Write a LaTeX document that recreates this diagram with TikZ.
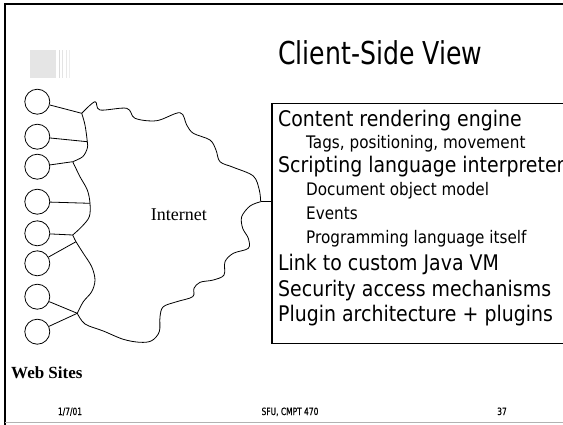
\documentclass[tikz,border=0pt]{standalone}
\usepackage{fontspec}
\setmainfont{Liberation Serif}
\newfontfamily\tah{DejaVu Sans}[FakeStretch=0.8]
\newfontfamily\tahb{DejaVu Sans}[FakeStretch=0.88]
\newfontfamily\tahf{DejaVu Sans}[FakeStretch=0.75,FakeBold=0.6]
\begin{document}
\begin{tikzpicture}[x=1pt,y=-1pt,
  site/.style={draw,circle,minimum size=25pt,inner sep=0pt,line width=0.8pt},
  wire/.style={line width=0.8pt},
  mainitem/.style={anchor=base west,inner sep=0pt,font=\tahb\fontsize{21.5}{24}\selectfont},
  subitem/.style={anchor=base west,inner sep=0pt,font=\tahb\fontsize{17.3}{20}\selectfont},
  foot/.style={anchor=base,inner sep=0pt,font=\tahf\fontsize{10}{11}\selectfont}]
\useasboundingbox (0,0) rectangle (563,424);
\clip (0,0) rectangle (563,424);
% frame
\draw[line width=2.2pt] (5,430) -- (5,4) -- (570,4);
\draw[line width=1.4pt,color=black!30] (5,422.5) -- (570,422.5);
% logo
\fill[black!10] (30,50) rectangle (56,78);
\draw[black!14,line width=0.9pt] (59.3,50) -- (59.3,78);
\draw[black!11,line width=0.9pt] (62.3,50) -- (62.3,78);
\draw[black!9,line width=0.9pt] (66.7,50) -- (66.7,78);
\draw[black!7,line width=0.9pt] (69.3,50) -- (69.3,78);
% title
\node[anchor=base west,inner sep=0pt,font=\tah\fontsize{31.5}{34}\selectfont] (title) at (278,64) {Client-Side View};
% cloud
\coordinate (j1) at (81.7,113.3);
\coordinate (j2) at (87.3,141.7);
\coordinate (j3) at (72.7,161.7);
\coordinate (j4) at (90,203.3);
\coordinate (j5) at (72.7,235);
\coordinate (j6) at (76,241.7);
\coordinate (j7) at (77.3,313.3);
\coordinate (jr) at (260.7,201.7);
\draw[wire] plot[smooth,tension=0.55] coordinates {(81.7,113.3) (95,101.7) (100,110) (126.7,108.3) (135,118.3) (156.7,120.7) (180,112.7) (186.7,125) (193.3,133.3) (210,140) (216,150) (220,161.7) (233.3,167.3) (253.3,176) (259.3,190) (260.7,201.7)};
\draw[wire] plot[smooth,tension=0.55] coordinates {(260.7,201.7) (250,206) (241.7,216.7) (242.7,228.3) (248.3,238.3) (248.3,248.3) (233.3,253.3) (225,261.7) (224,275) (213.3,280) (200,282.3) (194,288.3) (192.7,296.7) (176.7,301.7) (163.3,306.7) (160,316.7) (159.3,331.7) (151.7,340.7) (140,342.3) (123.3,339.3) (103.3,331) (85,324) (77.3,313.3)};
\draw[wire] plot[smooth,tension=0.55] coordinates {(77.3,313.3) (83.3,301.7) (91.7,291.7) (95,280) (91.7,266.7) (83.3,253.3) (76,241.7) (72.7,235)};
\draw[wire] plot[smooth,tension=0.55] coordinates {(72.7,235) (81.7,226.7) (89.3,216.7) (90,203.3) (87.3,190) (80,176.7) (72.7,161.7)};
\draw[wire] plot[smooth,tension=0.55] coordinates {(72.7,161.7) (82.7,156.7) (87.3,148.3) (87.3,141.7) (85,125) (81.7,113.3)};
\node[inner sep=0pt,anchor=base west,font=\fontsize{18}{20}\selectfont] (internet) at (150.7,220) {Internet};
% sites
\node[site] (c1) at (37.3,101.7) {};
\node[site] (c2) at (37.3,136.7) {};
\node[site] (c3) at (37.3,166.7) {};
\node[site] (c4) at (37.3,201.7) {};
\node[site] (c5) at (37.3,233.3) {};
\node[site] (c6) at (37.3,263.3) {};
\node[site] (c7) at (37.3,296.7) {};
\node[site] (c8) at (37.3,331.7) {};
\draw[wire] (c1) -- (j1);
\draw[wire] (c2) -- (j2);
\draw[wire] (c3) -- (j3);
\draw[wire] (c4) -- (j4);
\draw[wire] (c5) -- (j5);
\draw[wire] (c6) -- (j6);
\draw[wire] (c7) -- (j7);
\draw[wire] (c8) -- (j7);
\node[anchor=base west,inner sep=0pt,font=\bfseries\fontsize{17}{19}\selectfont] (web) at (11,378) {Web Sites};
% client box
\node[draw,line width=1.8pt,inner sep=0pt,minimum width=320pt,minimum height=240pt,anchor=north west] (box) at (271,102.5) {};
\draw[wire] (jr) -- (box.west |- jr);
\node[mainitem] (t1) at (278,126) {Content rendering engine};
\node[subitem] (t2) at (306,148) {Tags, positioning, movement};
\node[mainitem] (t3) at (278,172) {Scripting language interpreter};
\node[subitem] (t4) at (306,195) {Document object model};
\node[subitem] (t5) at (306,219) {Events};
\node[subitem] (t6) at (306,243) {Programming language itself};
\node[mainitem] (t7) at (278,270) {Link to custom Java VM};
\node[mainitem] (t8) at (278,296) {Security access mechanisms};
\node[mainitem] (t9) at (278,321) {Plugin architecture + plugins};
% footer
\node[foot] (f1) at (70,415) {1/7/01};
\node[foot] (f2) at (290,415) {SFU, CMPT 470};
\node[foot] (f3) at (502,415) {37};
\end{tikzpicture}
\end{document}
